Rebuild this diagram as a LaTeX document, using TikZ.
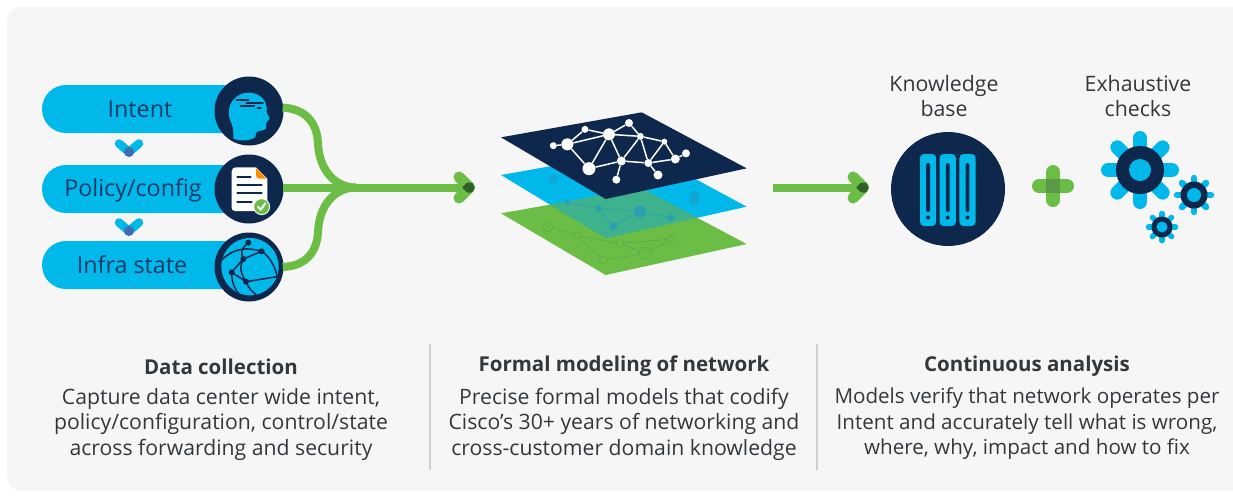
\documentclass[tikz,border=0pt]{standalone}
\usepackage{fontspec}
\setmainfont{Open Sans}
\usetikzlibrary{calc}
\definecolor{bgc}{HTML}{F6F6F6}
\definecolor{cyanc}{HTML}{00B9EA}
\definecolor{navyc}{HTML}{0D274D}
\definecolor{greenc}{HTML}{6CBD45}
\definecolor{darkgreen}{HTML}{2F5F2A}
\definecolor{midgreen}{HTML}{5A9A48}
\definecolor{tealc}{HTML}{3DB28C}
\definecolor{textc}{HTML}{33383D}
\definecolor{pilltext}{HTML}{173A68}
\definecolor{divc}{HTML}{CFCFCF}
\definecolor{overlapc}{HTML}{3F6DB5}
\definecolor{faintgreen}{HTML}{5BA948}
\definecolor{faintblue}{HTML}{2BA0B0}
\definecolor{faintcyan}{HTML}{12A5D2}
\tikzset{
  pill/.style={fill=cyanc,rounded corners=24pt},
  disc/.style={circle,fill=navyc,inner sep=0pt,minimum size=69pt},
  pilllabel/.style={font=\fontsize{23.3}{23}\selectfont,text=pilltext,inner sep=0pt},
  heading/.style={font=\fontsize{20.5}{25}\selectfont\bfseries,text=textc,inner sep=0pt},
  body/.style={font=\fontsize{20.6}{25.5}\selectfont,text=textc,align=center,inner sep=0pt},
  bodywide/.style={font=\fontsize{21.2}{25.5}\selectfont,text=textc,align=center,inner sep=0pt},
  toplabel/.style={font=\fontsize{21.3}{25}\selectfont,text=textc,align=center,inner sep=0pt},
  flow/.style={draw=greenc,line width=8pt},
  dot/.style={circle,inner sep=0pt,fill=white},
  netline/.style={draw=white,line width=1.5pt},
  dividerline/.style={draw=divc,line width=1.2pt},
}
\newcommand{\chevronhead}[2]{% tip x, y
  \draw[greenc,line width=11pt,line cap=round] (#1-16,#2-10.5) -- (#1-5.5,#2);
  \draw[greenc,line width=11pt,line cap=round] (#1-16,#2+10.5) -- (#1-5.5,#2);
  \fill[darkgreen,rounded corners=1pt] (#1-13,#2) -- (#1-8,#2-5) -- (#1-3,#2-5) -- (#1,#2) -- (#1-3,#2+5) -- (#1-8,#2+5) -- cycle;
}
\newcommand{\gearicon}[6]{% x y petal r, petal width, hub r, inner r
  \foreach \a in {0,45,...,315}{
    \draw[cyanc,line width=#4pt,line cap=round] (#1,#2) -- ($(#1,#2)+(\a:#3)$);
  }
  \fill[navyc] (#1,#2) circle (#5);
  \fill[cyanc] (#1,#2) circle (#6);
}
\newcommand{\vmark}[2]{%
  \draw[cyanc,line width=8.5pt,line cap=round,line join=round] (#1-10,#2-4.5) -- (#1,#2+4) -- (#1+10,#2-4.5);
  \fill[overlapc] (#1,#2+4) circle (5);
}
\begin{document}
\begin{tikzpicture}[x=1pt,y=-1pt]
\useasboundingbox (0,0) rectangle (1233,499);
\fill[white] (0,0) rectangle (1233,499);
\fill[bgc,rounded corners=14pt] (7,7) rectangle (1260,491);

% pills
\fill[pill] (42,85) rectangle (262,133);
\fill[pill] (42,165) rectangle (262,213);
\fill[pill] (42,241) rectangle (262,289);

% connectors
\coordinate (join) at (356,187.5);
\coordinate (tipa) at (468,187.5);
\node[disc] (intentdisc) at (249,111) {};
\node[disc] (policydisc) at (249,189) {};
\node[disc] (infradisc) at (249,267) {};
\draw[flow] (intentdisc.east) ++(-1,-3.5) .. controls (306,109) and (317,123) .. (318,143) .. controls (319,170) and (335,187.5) .. (join);
\draw[flow] (infradisc.east) ++(-1,0) .. controls (306,266) and (317,252) .. (318,232) .. controls (319,205) and (335,187.5) .. (join);
\draw[flow] (policydisc.east) ++(-1,-1.5) -- (tipa);
\chevronhead{475}{187.5}

\node[pilllabel] (intentlabel) at (140,109) {Intent};
\node[pilllabel] (policylabel) at (133,190) {Policy/config};
\node[pilllabel] (infralabel) at (132,265) {Infra state};
\vmark{129}{148}
\vmark{129}{227}

% head icon
\begin{scope}[shift={(30,60)},x=1/3*1pt,y=-1/3*1pt]
  \fill[cyanc] (610,236) .. controls (612,212) and (608,195) .. (600,180)
    .. controls (585,130) and (620,98) .. (655,98)
    .. controls (692,98) and (714,125) .. (710,155)
    .. controls (710,165) and (722,172) .. (718,178)
    .. controls (714,183) and (709,184) .. (709,188)
    .. controls (710,200) and (710,212) .. (692,212)
    .. controls (682,212) and (676,218) .. (676,232)
    .. controls (655,244) and (630,244) .. (610,236) -- cycle;
  \draw[navyc,line width=2.6pt,line cap=round] (620,120) -- (655,120);
  \draw[navyc,line width=2.6pt,line cap=round] (650,129) -- (698,129);
  \draw[navyc,line width=2.6pt,line cap=round] (632,138) -- (672,138);
  \draw[navyc,line width=2.2pt,line cap=round] (684,145) -- (692,145);
\end{scope}

% document icon
\begin{scope}[shift={(30,60)},x=1/3*1pt,y=-1/3*1pt]
  \fill[white] (605,335) .. controls (605,326) and (610,322) .. (618,322) -- (678,322) -- (712,356) -- (712,445) .. controls (712,450) and (708,453) .. (702,453) -- (615,453) .. controls (608,453) and (605,449) .. (605,443) -- cycle;
  \fill[orange!90!yellow] (678,324) -- (710,356) -- (688,356) .. controls (682,356) and (678,352) .. (678,346) -- cycle;
  \draw[navyc,line width=2.2pt,line cap=round] (622,352) -- (662,352);
  \draw[navyc,line width=2.2pt,line cap=round] (622,375) -- (695,375);
  \draw[navyc,line width=2.2pt,line cap=round] (622,400) -- (695,400);
  \draw[navyc,line width=2.2pt,line cap=round] (622,425) -- (665,425);
  \fill[greenc,draw=white,line width=.9pt] (695,440) circle (24);
  \draw[white,line width=2pt,line cap=round,line join=round] (684,440) -- (692,449) -- (706,430);
\end{scope}

% globe icon
\begin{scope}[shift={(30,60)},x=1/3*1pt,y=-1/3*1pt]
  \fill[cyanc] (660,620) circle (86);
  \coordinate (g1) at (655,548);
  \coordinate (g2) at (695,574);
  \coordinate (g3) at (640,597);
  \coordinate (g4) at (605,637);
  \coordinate (g5) at (648,665);
  \coordinate (g6) at (742,650);
  \begin{scope}[line width=1.5pt]
    \clip (660,620) circle (86);
    \draw[navyc] (575,600) .. controls (610,565) and (650,560) .. (695,574) .. controls (720,590) and (735,620) .. (742,650);
    \draw[navyc] (655,548) .. controls (632,565) and (632,580) .. (640,597) .. controls (625,625) and (635,645) .. (648,665) .. controls (655,685) and (670,700) .. (690,712);
    \draw[navyc] (695,574) -- (640,597) -- (605,637) -- (648,665) -- (742,650);
    \draw[navyc] (605,637) .. controls (605,660) and (610,685) .. (630,705);
  \end{scope}
  \foreach \c in {g1,g2,g3,g4,g5}{\fill[navyc] (\c) circle (9);}
\end{scope}

% layers
\begin{scope}[shift={(440,80)},x=1/3*1pt,y=-1/3*1pt]
  \path (183,285) coordinate (bl) (605,210) coordinate (bt) (920,380) coordinate (br) (497,475) coordinate (bb);
  \path (183,400) coordinate (gl) (605,325) coordinate (gt) (920,492) coordinate (gr) (497,585) coordinate (gb);
  \path (183,172) coordinate (nl) (605,97) coordinate (nt) (920,265) coordinate (nr) (497,357) coordinate (nb);
  \fill[cyanc] (bl) -- (bt) -- (br) -- (bb) -- cycle;
  \fill[greenc] (gl) -- (gt) -- (gr) -- (gb) -- cycle;
  \begin{scope}
    \clip (bl) -- (bt) -- (br) -- (bb) -- cycle;
    \fill[tealc] (gl) -- (gt) -- (gr) -- (gb) -- cycle;
  \end{scope}
  % faint green layer network
  \begin{scope}[line width=.6pt]
    \node[circle,draw=faintgreen,inner sep=0pt,minimum size=10pt] (p1) at (323,440) {};
    \node[circle,draw=faintgreen,inner sep=0pt,minimum size=6pt] (p2) at (410,466) {};
    \node[circle,draw=faintgreen,inner sep=0pt,minimum size=8pt] (p3) at (540,490) {};
    \node[circle,draw=faintgreen,inner sep=0pt,minimum size=12pt] (p4) at (615,520) {};
    \node[circle,draw=faintgreen,inner sep=0pt,minimum size=7pt] (p5) at (693,477) {};
    \node[circle,draw=faintgreen,inner sep=0pt,minimum size=8pt] (p6) at (490,540) {};
    \draw[faintgreen] (p1) -- (p2) -- (p3) -- (p4) -- (p5);
    \draw[faintgreen] (p2) -- (p6) -- (p4);
    \draw[faintgreen] (p5) -- (p3);
  \end{scope}
  % faint blue layer network
  \fill[faintcyan] (340,297) circle (14);
  \fill[faintcyan] (763,355) ellipse (16 and 22);
  \node[circle,fill=faintblue,inner sep=0pt,minimum size=7pt] (q1) at (475,385) {};
  \node[circle,fill=faintblue,inner sep=0pt,minimum size=12pt] (q2) at (600,395) {};
  \node[circle,fill=faintblue,inner sep=0pt,minimum size=7pt] (q3) at (693,413) {};
  \node[circle,fill=faintblue,inner sep=0pt,minimum size=8pt] (q4) at (520,438) {};
  \node[circle,fill=faintblue,inner sep=0pt,minimum size=5pt] (q5) at (382,367) {};
  \draw[faintblue,line width=.6pt] (q5) -- (q1) -- (q2) -- (q3);
  \draw[faintblue,line width=.6pt] (q1) -- (q4) -- (q2);
  % navy layer
  \fill[navyc] (nl) -- (nt) -- (nr) -- (nb) -- cycle;
  \foreach \n/\x/\y/\s in {a/340/197/7,b/382/193/12,c/435/148/7,d/507/163/12,e/567/129/8,f/601/169/7,g/673/185/6,h/738/220/8,i/706/237/9,j/625/249/8,k/544/243/9,l/447/266/13,m/529/299/8,o/654/285/9}{
    \node[dot,minimum size=\s pt] (n\n) at (\x,\y) {};
  }
  \foreach \u/\v in {a/b,b/c,c/d,d/e,e/f,d/f,b/d,f/g,g/i,i/h,j/i,g/j,f/j,f/k,k/j,d/k,k/l,b/l,l/d,k/m,j/o}{
    \draw[netline] (n\u) -- (n\v);
  }
\end{scope}

% second arrow
\coordinate (tailb) at (773,187.5);
\coordinate (tipb) at (862,187.5);
\draw[flow] (tailb) -- (tipb);
\chevronhead{869}{187.5}

% knowledge base
\node[circle,fill=navyc,inner sep=0pt,minimum size=114pt] (kb) at (948,189) {};
\foreach \bx in {920,939.6,959.4}{
  \fill[cyanc,rounded corners=4pt] (\bx,154) rectangle ++(16.2,72);
  \fill[navyc,rounded corners=1.5pt] (\bx+6.2,163) rectangle ++(3.8,49);
  \fill[navyc] (\bx+8.1,217.5) circle (2);
}

% plus
\draw[greenc,line width=14pt,line cap=round] (1039,186) -- (1067,186);
\draw[greenc,line width=14pt,line cap=round] (1053,172) -- (1053,200);
\fill[midgreen] (1046,179) rectangle (1060,193);

% gears
\gearicon{1140}{170}{32}{14}{24}{11}
\gearicon{1194}{195}{17}{6.5}{13.5}{7}
\gearicon{1162}{227}{13.5}{5.5}{10.5}{5.5}

% text
\node[toplabel] (kbl) at (944,96) {Knowledge\\base};
\node[toplabel] (exl) at (1138,96) {Exhaustive\\checks};
\node[heading] (h1) at (221,366.5) {Data collection};
\node[heading] (h2) at (624,366.5) {Formal modeling of network};
\node[heading] (h3) at (1027,366.5) {Continuous analysis};
\node[bodywide] (b1) at (221,424) {Capture data center wide intent,\\policy/configuration, control/state\\across forwarding and security};
\node[bodywide] (b2) at (624,424) {Precise formal models that codify\\Cisco’s 30+ years of networking and\\cross-customer domain knowledge};
\node[body] (b3) at (1027,424) {Models verify that network operates per\\Intent and accurately tell what is wrong,\\where, why, impact and how to fix};
\coordinate (d1t) at (430,344); \coordinate (d1b) at (430,470);
\coordinate (d2t) at (817,344); \coordinate (d2b) at (817,470);
\draw[dividerline] (d1t) -- (d1b);
\draw[dividerline] (d2t) -- (d2b);
\end{tikzpicture}
\end{document}
